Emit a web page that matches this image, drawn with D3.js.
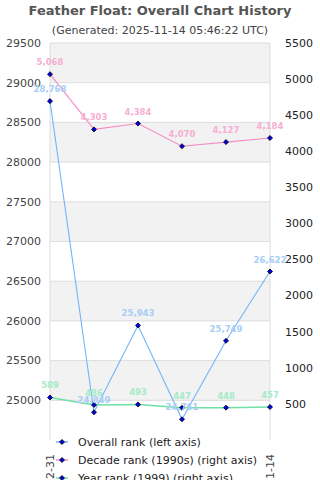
<!DOCTYPE html>
<html>
<head>
<meta charset="utf-8">
<script src="https://cdn.jsdelivr.net/npm/d3@7"></script>
<style>
  body { margin: 0; background: #fff; }
  svg { font-family: "DejaVu Sans", sans-serif; display: block; }
</style>
</head>
<body>
<script>
// chart data
var dates = ['2020-12-31', '2021-12-31', '2022-12-31', '2023-12-31', '2024-12-31', '2025-11-14'];
var overallRank = [28768, 24849, 25943, 24761, 25749, 26622];
var decadeRank = [5068, 4303, 4384, 4070, 4127, 4184];
var yearRank = [589, 486, 493, 447, 448, 457];
var leftTicks = [25000, 25500, 26000, 26500, 27000, 27500, 28000, 28500, 29000, 29500];
var rightTicks = [500, 1000, 1500, 2000, 2500, 3000, 3500, 4000, 4500, 5000, 5500];
var legendNames = ['Overall rank (left axis)', 'Decade rank (1990s) (right axis)', 'Year rank (1999) (right axis)'];

var W = 320, H = 480;
var pLeft = 50, pRight = 270, pTop = 43, pBottom = 440;

var svg = d3.select('body').append('svg')
  .attr('width', W)
  .attr('height', H);

var x = d3.scalePoint().domain(d3.range(dates.length)).range([pLeft, pRight]);
var yL = d3.scaleLinear().domain([24500, 29500]).range([pBottom, pTop]);
var yR = d3.scaleLinear().domain([0, 5500]).range([pBottom, pTop]);

// title
svg.append('text')
  .attr('x', 160).attr('y', 15)
  .attr('text-anchor', 'middle')
  .style('font-size', '13px').style('font-weight', 'bold')
  .style('fill', '#555')
  .text('Feather Float: Overall Chart History');
svg.append('text')
  .attr('x', 160).attr('y', 34)
  .attr('text-anchor', 'middle')
  .style('font-size', '11px')
  .style('fill', '#444')
  .text('(Generated: 2025-11-14 05:46:22 UTC)');

// alternating bands
var bands = [];
for (var i = 0; i < leftTicks.length; i += 2) bands.push(leftTicks[i]);
svg.selectAll('rect.band').data(bands).enter().append('rect')
  .attr('class', 'band')
  .attr('x', pLeft).attr('width', pRight - pLeft)
  .attr('y', function(d) { return yL(d + 500); })
  .attr('height', function(d) { return yL(d) - yL(d + 500); })
  .style('fill', '#f2f2f2');

// grid
svg.selectAll('line.grid').data(leftTicks).enter().append('line')
  .attr('class', 'grid')
  .attr('x1', pLeft).attr('x2', pRight)
  .attr('y1', function(d) { return yL(d); })
  .attr('y2', function(d) { return yL(d); })
  .style('stroke', '#ddd');

svg.append('line').attr('x1', pLeft).attr('x2', pLeft).attr('y1', pTop).attr('y2', pBottom).style('stroke', '#ddd');
svg.append('line').attr('x1', pRight).attr('x2', pRight).attr('y1', pTop).attr('y2', pBottom).style('stroke', '#ddd');

// axes labels
svg.selectAll('text.yl').data(leftTicks).enter().append('text')
  .attr('class', 'yl')
  .attr('x', 41).attr('y', function(d) { return yL(d); })
  .attr('dy', '0.35em')
  .attr('text-anchor', 'end')
  .style('font-size', '11px').style('fill', '#444')
  .text(function(d) { return d; });

svg.selectAll('text.yr').data(rightTicks).enter().append('text')
  .attr('class', 'yr')
  .attr('x', 285).attr('y', function(d) { return yR(d); })
  .attr('dy', '0.35em')
  .style('font-size', '11px').style('fill', '#222')
  .text(function(d) { return d; });

// x labels, rotated
svg.selectAll('text.xl').data(dates).enter().append('text')
  .attr('class', 'xl')
  .attr('transform', function(d, i) { return 'translate(' + (x(i) + 4) + ',454) rotate(-90)'; })
  .attr('text-anchor', 'end')
  .style('font-size', '11px').style('fill', '#444')
  .text(function(d) { return d; });

var series = [
  { vals: overallRank, y: yL, line: '#74b4fb', lab: '#a8cdf6', w: 1.1 },
  { vals: decadeRank, y: yR, line: '#f48cc4', lab: '#f6afd2', w: 1.1 },
  { vals: yearRank, y: yR, line: '#6fe0a6', lab: '#a4ebc6', w: 1.5 }
];

var diamond = d3.symbol().type(d3.symbolDiamond2).size(16);

series.forEach(function(s) {
  var line = d3.line()
    .x(function(d, i) { return x(i); })
    .y(function(d) { return s.y(d); });
  svg.append('path')
    .datum(s.vals)
    .attr('d', line)
    .style('fill', 'none')
    .style('stroke', s.line)
    .style('stroke-width', s.w);
});

series.forEach(function(s) {
  svg.selectAll(null).data(s.vals).enter().append('path')
    .attr('d', diamond)
    .attr('transform', function(d, i) { return 'translate(' + x(i) + ',' + s.y(d) + ')'; })
    .style('fill', '#0000ee')
    .style('stroke', '#000')
    .style('stroke-width', 0.8);
});

series.forEach(function(s) {
  svg.selectAll(null).data(s.vals).enter().append('text')
    .attr('x', function(d, i) { return x(i); })
    .attr('y', function(d) { return s.y(d) - 9; })
    .attr('text-anchor', 'middle')
    .style('font-size', '8.5px').style('font-weight', 'bold')
    .style('fill', s.lab)
    .text(function(d) { return d3.format(',')(d); });
});

// legend
var lg = svg.append('g');
lg.append('rect')
  .attr('x', 56).attr('y', 433).attr('width', 208).attr('height', 47)
  .style('fill', '#fff');
var items = lg.selectAll('g.item').data(legendNames).enter().append('g')
  .attr('class', 'item')
  .attr('transform', function(d, i) { return 'translate(0,' + (442 + i * 18) + ')'; });
items.append('line')
  .attr('x1', 56).attr('x2', 68).attr('y1', 0).attr('y2', 0)
  .style('stroke', function(d, i) { return series[i].line; })
  .style('stroke-width', 1.5);
items.append('path')
  .attr('d', diamond)
  .attr('transform', 'translate(62,0)')
  .style('fill', '#0000ee').style('stroke', '#000').style('stroke-width', 0.8);
items.append('text')
  .attr('x', 78).attr('y', 0).attr('dy', '0.35em')
  .style('font-size', '11px').style('fill', '#222')
  .text(function(d) { return d; });
</script>
</body>
</html>
